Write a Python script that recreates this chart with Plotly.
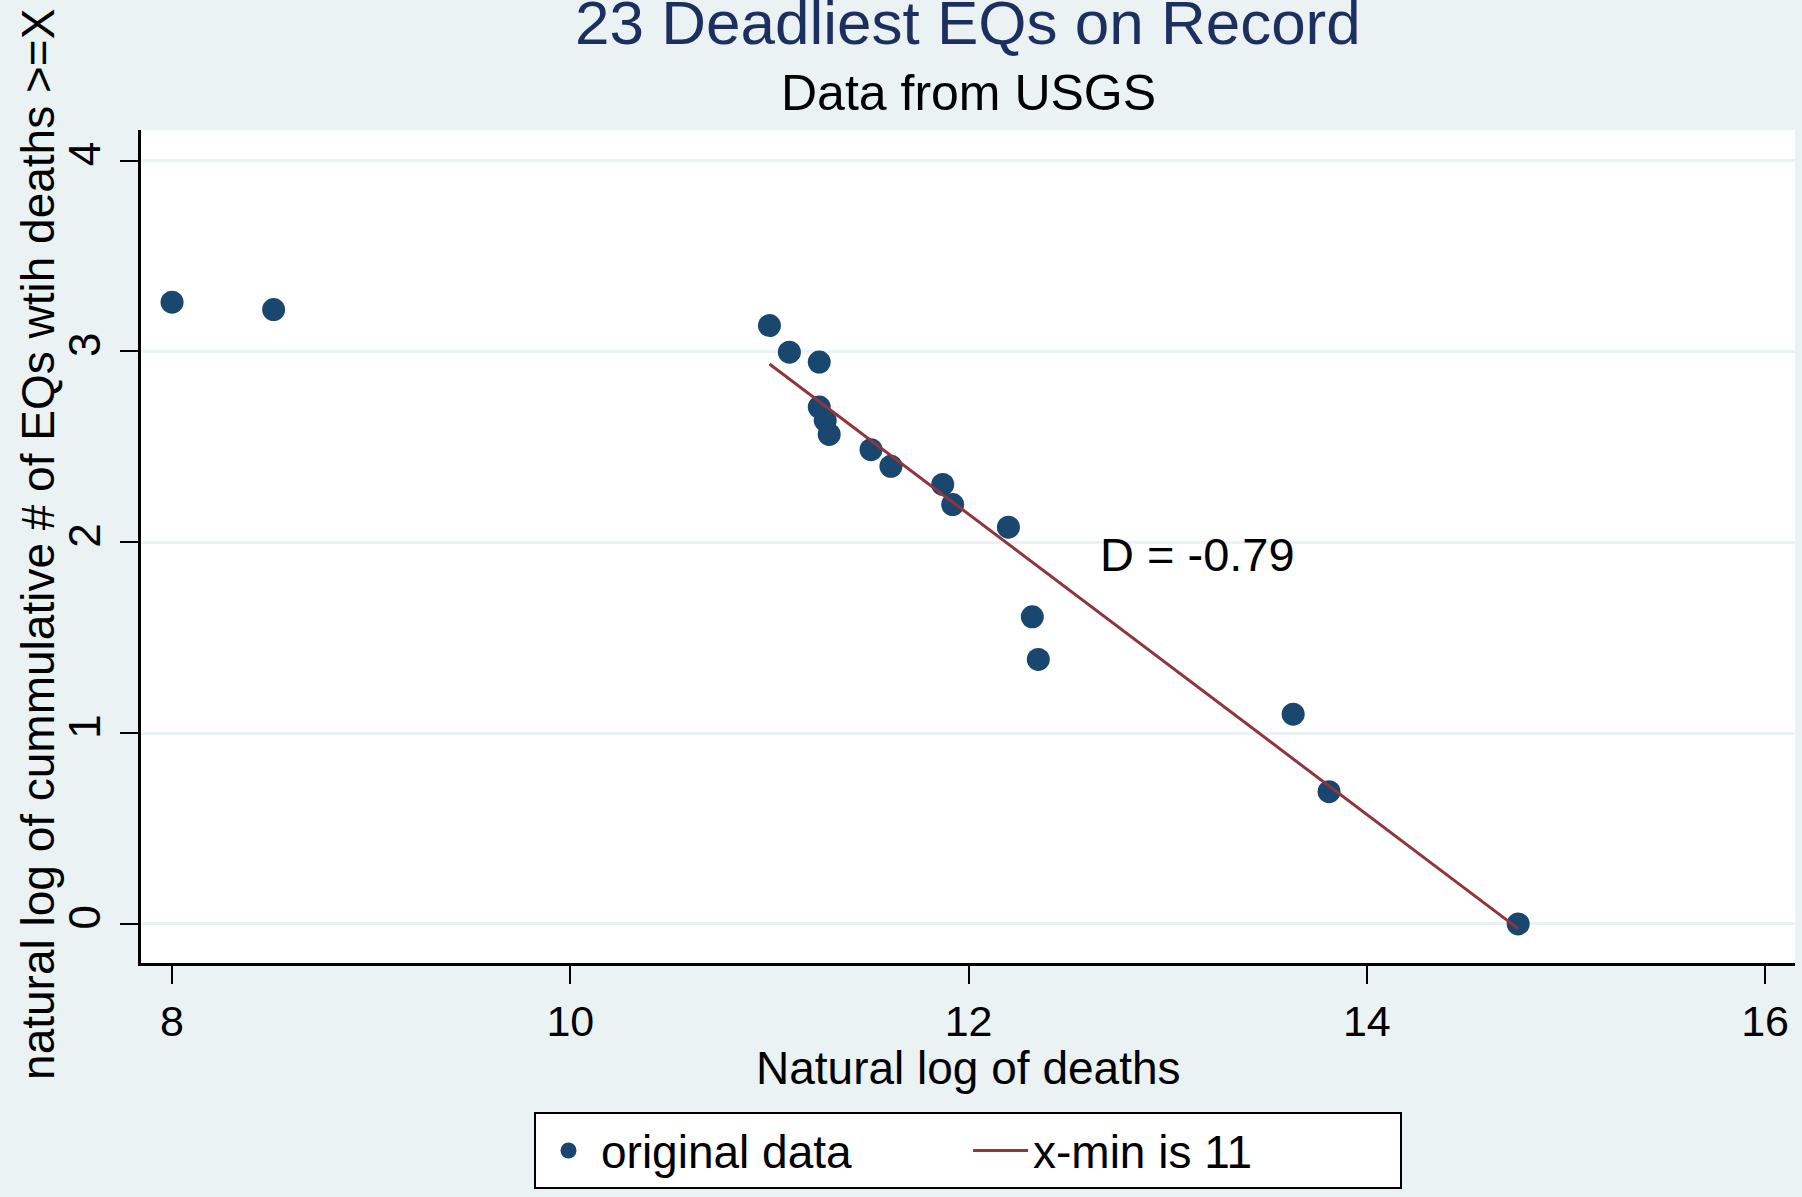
import plotly.graph_objects as go

# ---- data ----
ln_deaths = [8.00, 8.51, 11.00, 11.10, 11.25, 11.25, 11.28, 11.30, 11.51, 11.61,
             11.87, 11.92, 12.20, 12.32, 12.35, 13.63, 13.81, 14.76]
ln_cum_count = [3.258, 3.219, 3.135, 2.996, 2.944, 2.708, 2.639, 2.565, 2.485, 2.398,
                2.303, 2.197, 2.079, 1.609, 1.386, 1.099, 0.693, 0.0]
fit_slope = -0.787
fit_intercept = 11.591
fit_xmin = 11.0
x_ticks = [8, 10, 12, 14, 16]
y_ticks = [0, 1, 2, 3, 4]
d_label = "D = -0.79"

FONT = "Liberation Sans, Arial, sans-serif"
BG = "#eaf2f3"
NAVY = "#1a476f"
MAROON = "#90353b"

fit_x = [fit_xmin, max(ln_deaths)]
fit_y = [fit_intercept + fit_slope * v for v in fit_x]

fig = go.Figure()
fig.add_trace(go.Scatter(
    x=ln_deaths, y=ln_cum_count, mode="markers", name="original data",
    marker=dict(color=NAVY, size=23, line=dict(width=0)),
    cliponaxis=False,
))
fig.add_trace(go.Scatter(
    x=fit_x, y=fit_y, mode="lines", name="x-min is 11",
    line=dict(color=MAROON, width=3),
))

fig.add_annotation(x=13.15, y=1.934, xref="x", yref="y", text=d_label,
                   showarrow=False, font=dict(family=FONT, size=47, color="black"))

# titles
fig.add_annotation(x=0.5, y=1.0852, xref="paper", yref="paper", yanchor="bottom",
                   text="23 Deadliest EQs on Record", showarrow=False,
                   font=dict(family=FONT, size=62, color="#1c2f5f"))
fig.add_annotation(x=0.5, y=1.0084, xref="paper", yref="paper", yanchor="bottom",
                   text="Data from USGS", showarrow=False,
                   font=dict(family=FONT, size=50, color="black"))
# axis titles
fig.add_annotation(x=0.5, y=-0.092, xref="paper", yref="paper", yanchor="top",
                   text="Natural log of deaths", showarrow=False,
                   font=dict(family=FONT, size=46, color="black"))
fig.add_annotation(x=-0.0623, y=0.503, xref="paper", yref="paper",
                   xanchor="center", yanchor="middle", textangle=-90,
                   text="natural log of cummulative # of EQs wtih deaths >=X",
                   showarrow=False, font=dict(family=FONT, size=46, color="black"))

fig.update_layout(
    width=1802, height=1197,
    margin=dict(l=141, r=7, t=130, b=234),
    paper_bgcolor=BG, plot_bgcolor="white",
    font=dict(family=FONT, color="black"),
    showlegend=True,
    legend=dict(
        orientation="h", x=0.5, xanchor="center", y=-0.179, yanchor="top",
        bgcolor="white", bordercolor="black", borderwidth=2,
        font=dict(family=FONT, size=46, color="black"),
        itemwidth=55, entrywidth=362, entrywidthmode="pixels",
    ),
    xaxis=dict(
        range=[7.844, 16.15], tickvals=x_ticks, ticks="outside", ticklen=18,
        tickwidth=2, tickcolor="black", showline=True, linecolor="black",
        linewidth=3, showgrid=False, zeroline=False,
        tickfont=dict(family=FONT, size=43, color="black"),
    ),
    yaxis=dict(
        range=[-0.205, 4.16], tickvals=y_ticks, ticks="outside", ticklen=18,
        tickwidth=2, tickcolor="black", showline=True, linecolor="black",
        linewidth=3, showgrid=True, gridcolor=BG, gridwidth=3, zeroline=False,
        tickangle=-90, ticklabelstandoff=2,
        tickfont=dict(family=FONT, size=44, color="black"),
    ),
)

fig.write_html("out.html")
